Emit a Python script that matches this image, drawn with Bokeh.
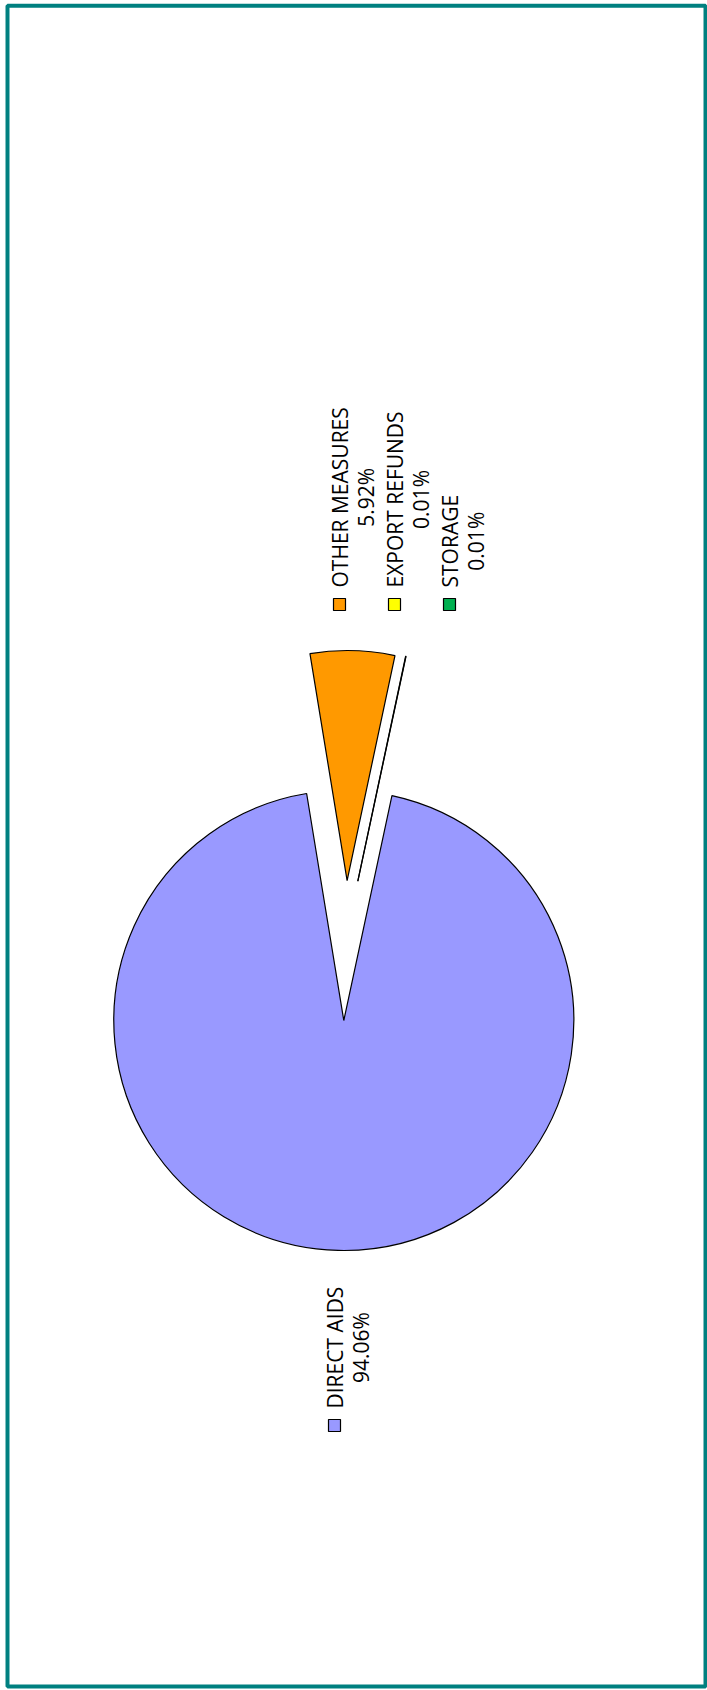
import math
from bokeh.plotting import figure
from bokeh.models import Range1d
from bokeh.core.properties import value
from bokeh.embed import file_html
from bokeh.resources import INLINE

# ---------------- data ----------------
labels = ["OTHER MEASURES", "EXPORT REFUNDS", "STORAGE", "DIRECT AIDS"]
values = [5.92, 0.01, 0.01, 94.06]
pct_labels = ["5.92%", "0.01%", "0.01%", "94.06%"]
colors = ["#FF9900", "#FFFF00", "#00B050", "#9999FF"]

# ---------------- layout / style ----------------
PAGE_W, PAGE_H = 707, 1690
def Y(pic_y):           # picture pixel -> data y (y up)
    return PAGE_H - pic_y

CX, CY = 343.3, Y(1020)   # pie centre
R = 230
START_DEG = 99.3          # first slice starts here, slices run clockwise
EXPLODE_DIST = [140, 140, 140, 0]
EXPLODE_SKEW = [0.0, 6.3, 6.3, 0.0]
LABEL_POS = [(325, 587), (380, 587), (435, 587), (320, 1408)]  # picture coords
FONT = "Open Sans"

p = figure(width=PAGE_W, height=PAGE_H, output_backend="svg", toolbar_location=None,
           x_range=Range1d(0, PAGE_W), y_range=Range1d(0, PAGE_H),
           x_axis_type=None, y_axis_type=None, min_border=0)
p.grid.visible = False
p.outline_line_color = None
p.background_fill_color = "white"
p.border_fill_color = "white"

# wedges
total = sum(values)
xs, ys, lo, hi = [], [], [], []
acc = 0.0
for v, d, sk in zip(values, EXPLODE_DIST, EXPLODE_SKEW):
    a_hi = START_DEG - acc / total * 360.0
    a_lo = a_hi - v / total * 360.0
    acc += v
    mid = math.radians((a_hi + a_lo) / 2 + sk)
    xs.append(CX + d * math.cos(mid))
    ys.append(CY + d * math.sin(mid))
    lo.append(a_lo)
    hi.append(a_hi)

# draw big slice first so small ones lie on top
for i in [3, 0, 1, 2]:
    p.wedge(x=xs[i], y=ys[i], radius=R, start_angle=lo[i], end_angle=hi[i],
            start_angle_units="deg", end_angle_units="deg",
            fill_color=colors[i], line_color="black", line_width=1.2)

# data labels with legend keys (text rotated 90°)
tx = [lp[0] for lp in LABEL_POS]
ty = [Y(lp[1]) for lp in LABEL_POS]
txt = [f"{l}\n{pc}" for l, pc in zip(labels, pct_labels)]
p.text(x=tx, y=ty, text=txt, angle=math.pi / 2, anchor="top_left", text_align="center",
       text_font=value(FONT), text_font_size="21px", text_line_height=0.94,
       text_color="#000000")

sq_x = [x + 14 for x in tx]
sq_y = [y - 17 for y in ty]
p.rect(x=sq_x, y=sq_y, width=12, height=12, fill_color=colors,
       line_color="black", line_width=1.2)

# frame border
p.quad(left=[7], right=[705], top=[Y(5.3)], bottom=[Y(1686)],
       fill_color=None, line_color="#008080", line_width=4)

open("out.html", "w").write(file_html(p, INLINE))
